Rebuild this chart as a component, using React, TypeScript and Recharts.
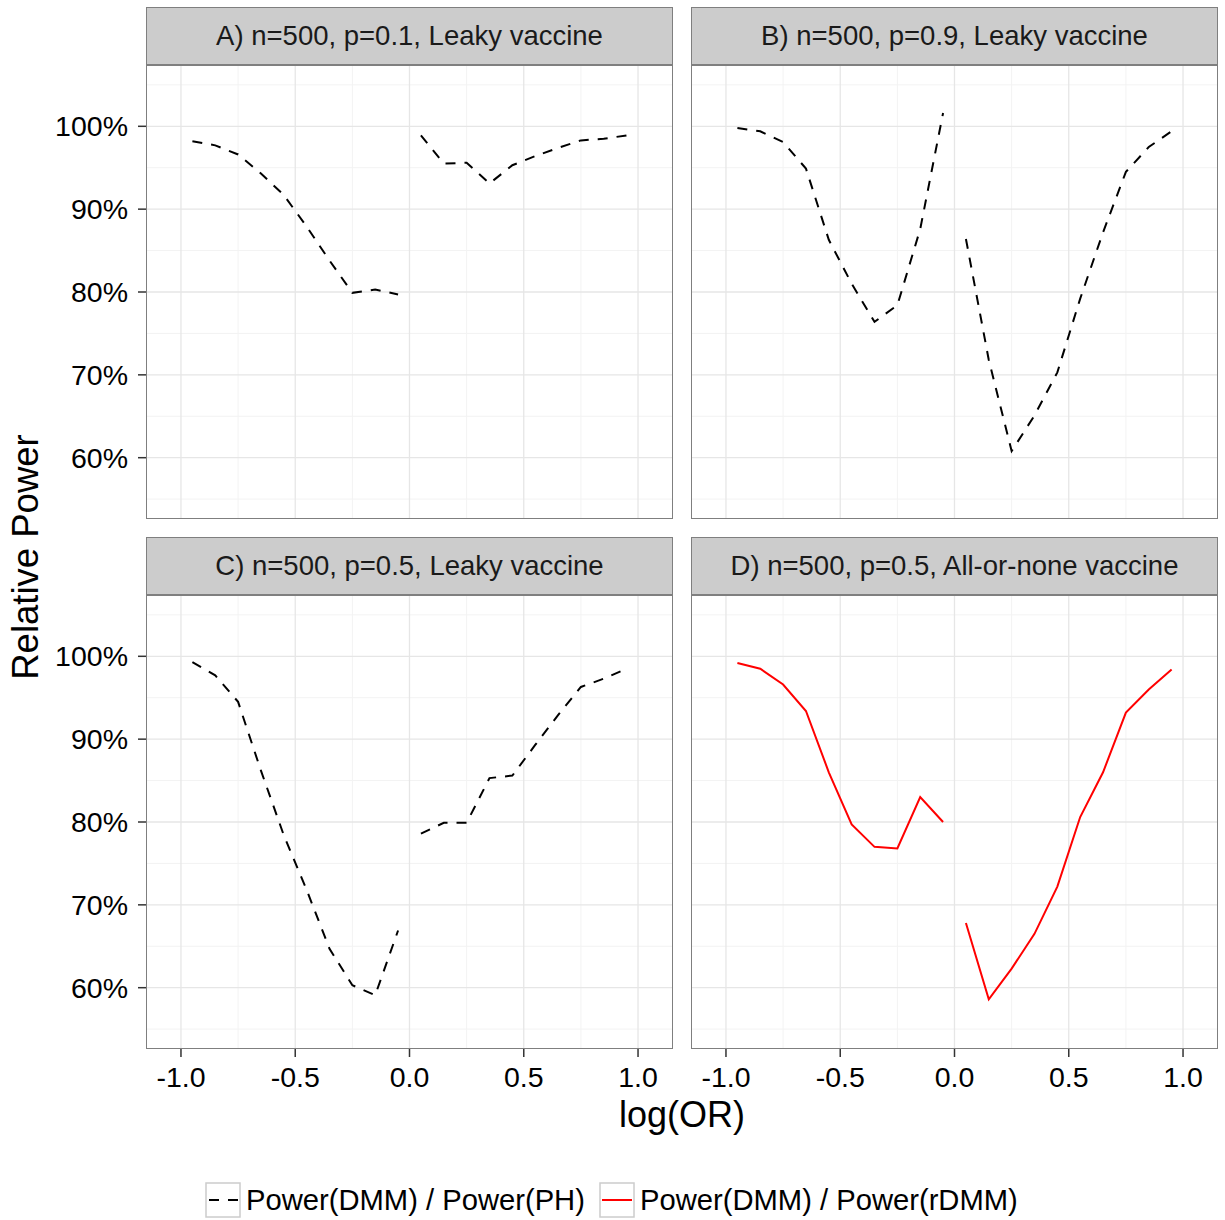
import { LineChart, Line, XAxis, YAxis, ReferenceLine } from 'recharts';

// log odds ratio grid (no point at 0, the curve breaks there)
const logOR = [-0.95, -0.85, -0.75, -0.65, -0.55, -0.45, -0.35, -0.25, -0.15, -0.05, 0.05, 0.15, 0.25, 0.35, 0.45, 0.55, 0.65, 0.75, 0.85, 0.95];

// relative power in %
const powerA = [98.2, 97.7, 96.6, 94.3, 91.7, 87.9, 83.8, 79.9, 80.3, 79.7, 98.9, 95.5, 95.6, 93.1, 95.3, 96.4, 97.4, 98.3, 98.5, 98.9];
const powerB = [99.8, 99.4, 98.1, 94.9, 86.3, 81.0, 76.4, 78.4, 87.6, 101.6, 86.4, 71.8, 60.8, 65.1, 70.3, 79.2, 87.2, 94.5, 97.5, 99.4];
const powerC = [99.3, 97.7, 94.5, 86.2, 78.4, 71.8, 64.7, 60.3, 59.1, 66.9, 78.6, 79.9, 79.9, 85.3, 85.6, 89.3, 92.9, 96.3, 97.3, 98.5];
const powerD = [99.2, 98.5, 96.6, 93.4, 86.0, 79.7, 77.0, 76.8, 83.0, 80.0, 67.8, 58.6, 62.3, 66.5, 72.2, 80.6, 86.0, 93.2, 96.0, 98.4];

const panelTitles = [
  'A) n=500, p=0.1, Leaky vaccine',
  'B) n=500, p=0.9, Leaky vaccine',
  'C) n=500, p=0.5, Leaky vaccine',
  'D) n=500, p=0.5, All-or-none vaccine',
];
const legendLabels = ['Power(DMM) / Power(PH)', 'Power(DMM) / Power(rDMM)'];

const xTicks = [-1, -0.5, 0, 0.5, 1];
const xMinor = [-0.75, -0.25, 0.25, 0.75];
const yTicks = [60, 70, 80, 90, 100];
const yMinor = [55, 65, 75, 85, 95, 105];

const FONT = '"Liberation Sans", Arial, Helvetica, sans-serif';
const PW = 527;
const PH = 454;
const Y_W = 110;
const X_H = 50;
const STRIP_H = 58;

function buildRows(values: number[]) {
  const rows: { x: number; y: number | null }[] = [];
  logOR.forEach((x, i) => {
    if (i === 10) rows.push({ x: 0, y: null });
    rows.push({ x, y: values[i] });
  });
  return rows;
}

interface PanelProps {
  title: string;
  values: number[];
  left: number;
  top: number;
  showY: boolean;
  showX: boolean;
  red?: boolean;
}

function Panel({ title, values, left, top, showY, showX, red }: PanelProps) {
  const data = buildRows(values);
  const chartLeft = showY ? left - Y_W : left;
  const width = PW + (showY ? Y_W : 0);
  const height = PH + (showX ? X_H : 0);
  const tickStyle = { fill: '#000', fontSize: 28.5, fontFamily: FONT };

  return (
    <>
      <div
        style={{
          position: 'absolute', left, top: top - STRIP_H, width: PW, height: STRIP_H,
          boxSizing: 'border-box', background: '#CCCCCC', border: '1.5px solid #7f7f7f',
          display: 'flex', alignItems: 'center', justifyContent: 'center',
          fontFamily: FONT, fontSize: 27.5, color: '#1a1a1a',
        }}
      >
        {title}
      </div>
      <div style={{ position: 'absolute', left: chartLeft, top }}>
        <LineChart width={width} height={height} data={data} margin={{ top: 0, right: 0, bottom: 0, left: 0 }}>
          <XAxis
            dataKey="x"
            type="number"
            domain={[-1.153, 1.153]}
            ticks={xTicks}
            allowDataOverflow
            hide={!showX}
            height={X_H}
            axisLine={false}
            tickSize={8}
            tickMargin={10}
            tickLine={{ stroke: '#333', strokeWidth: 1.5 }}
            tick={tickStyle}
            tickFormatter={(v: number) => v.toFixed(1)}
          />
          <YAxis
            type="number"
            domain={[52.6, 107.4]}
            ticks={yTicks}
            allowDataOverflow
            hide={!showY}
            width={showY ? Y_W : 0}
            axisLine={false}
            tickSize={8}
            tickMargin={10}
            tickLine={{ stroke: '#333', strokeWidth: 1.5 }}
            tick={tickStyle}
            tickFormatter={(v: number) => `${v}%`}
          />
          {xMinor.map((v) => (
            <ReferenceLine key={'xm' + v} x={v} stroke="#F3F3F3" strokeWidth={1} />
          ))}
          {yMinor.map((v) => (
            <ReferenceLine key={'ym' + v} y={v} stroke="#F3F3F3" strokeWidth={1} />
          ))}
          {xTicks.map((v) => (
            <ReferenceLine key={'x' + v} x={v} stroke="#E6E6E6" strokeWidth={1.3} />
          ))}
          {yTicks.map((v) => (
            <ReferenceLine key={'y' + v} y={v} stroke="#E6E6E6" strokeWidth={1.3} />
          ))}
          <Line
            dataKey="y"
            type="linear"
            stroke={red ? '#FF0000' : '#000000'}
            strokeWidth={2}
            strokeDasharray={red ? undefined : '10 9'}
            dot={false}
            activeDot={false}
            connectNulls={false}
            isAnimationActive={false}
          />
        </LineChart>
      </div>
      <div
        style={{
          position: 'absolute', left, top, width: PW, height: PH,
          boxSizing: 'border-box', border: '1.5px solid #7f7f7f', pointerEvents: 'none',
        }}
      />
    </>
  );
}

export default function App() {
  return (
    <div style={{ position: 'absolute', left: 0, top: 0, width: 1225, height: 1220, background: '#fff', fontFamily: FONT }}>
      <Panel title={panelTitles[0]} values={powerA} left={146} top={65} showY showX={false} />
      <Panel title={panelTitles[1]} values={powerB} left={691} top={65} showY={false} showX={false} />
      <Panel title={panelTitles[2]} values={powerC} left={146} top={595} showY showX />
      <Panel title={panelTitles[3]} values={powerD} left={691} top={595} showY={false} showX red />

      <div
        style={{
          position: 'absolute', left: 26 - 200, top: 557 - 20, width: 400, height: 40,
          lineHeight: '40px', textAlign: 'center', fontSize: 36.5, color: '#000',
          transform: 'rotate(-90deg)',
        }}
      >
        Relative Power
      </div>
      <div
        style={{
          position: 'absolute', left: 482, top: 1095, width: 400, height: 40,
          lineHeight: '40px', textAlign: 'center', fontSize: 36, color: '#000',
        }}
      >
        log(OR)
      </div>

      <svg style={{ position: 'absolute', left: 0, top: 1170 }} width={1225} height={50}>
        <rect x={206} y={13} width={34} height={34} fill="#fff" stroke="#CCCCCC" strokeWidth={1.5} />
        <line x1={208} y1={30} x2={238} y2={30} stroke="#000" strokeWidth={2} strokeDasharray="10 9" strokeDashoffset={-1} />
        <text x={246} y={40} fontSize={29.2} fontFamily={FONT} fill="#000">{legendLabels[0]}</text>
        <rect x={600} y={13} width={34} height={34} fill="#fff" stroke="#CCCCCC" strokeWidth={1.5} />
        <line x1={602} y1={30} x2={632} y2={30} stroke="#FF0000" strokeWidth={2} />
        <text x={640} y={40} fontSize={29.2} fontFamily={FONT} fill="#000">{legendLabels[1]}</text>
      </svg>
    </div>
  );
}
